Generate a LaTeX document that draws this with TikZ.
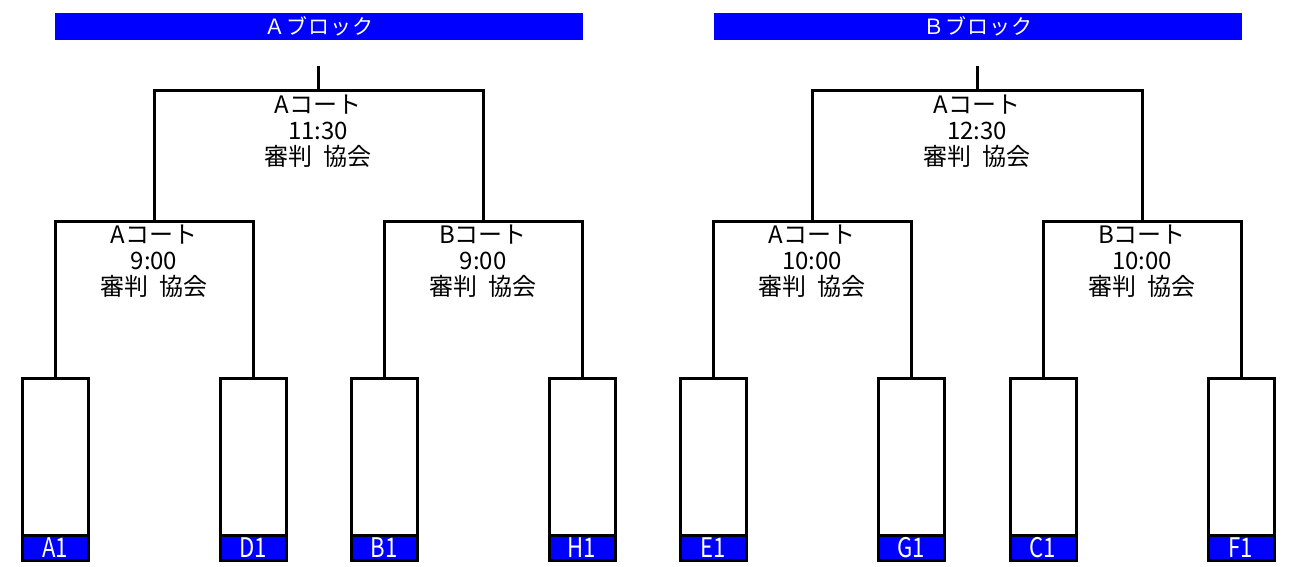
\documentclass[tikz,border=0pt]{standalone}
\usepackage{fontspec}
\setmainfont{Noto Sans CJK JP}
\newfontfamily\hdrfont{Noto Sans CJK JP}[LetterSpace=4]
\definecolor{hblue}{RGB}{0,0,255}
\newcommand{\narrowtxt}[1]{\scalebox{0.82}[1]{#1}}
\begin{document}
\begin{tikzpicture}[x=1pt,y=-1pt,
  line width=3pt,
  header/.style={fill=hblue,inner sep=0pt,minimum width=528pt,minimum height=27pt,
    text=white,font=\hdrfont\fontsize{21pt}{21pt}\selectfont},
  teambox/.style={draw=black,fill=white,inner sep=0pt,minimum width=66pt,minimum height=182pt,line width=3pt},
  teamlbl/.style={draw=black,fill=hblue,inner sep=0pt,minimum width=66pt,minimum height=25pt,line width=3pt,
    text=white,font=\fontsize{27pt}{27pt}\selectfont},
  matchtxt/.style={align=center,inner sep=0pt,
    font=\fontsize{24pt}{26pt}\selectfont},
  bracket/.style={draw=black,line width=3pt}
]
\useasboundingbox (0,0) rectangle (1303,567);

% headers
\node[header] (ha) at (319,26.5) {Ａブロック};
\node[header] (hb) at (978,26.5) {Ｂブロック};

% team boxes
\foreach \nm/\x/\lab in {a1/55/A1, d1/253/D1, b1/384/B1, h1/582/H1,
                         e1/713/E1, g1/911/G1, c1/1043/C1, f1/1241/F1}{
  \node[teambox] (\nm) at (\x,469) {};
  \node[teamlbl] (\nm l) at (\x,547.5) {\narrowtxt{\lab}};
}

% junction coordinates
\coordinate (j1) at (154,221);
\coordinate (j2) at (483,221);
\coordinate (j3) at (812,221);
\coordinate (j4) at (1142,221);
\coordinate (ja) at (318,91);
\coordinate (jb) at (977,91);
\coordinate (sa) at (318,66);
\coordinate (sb) at (977,66);

% brackets
\draw[bracket] (a1.north) |- (j1) -| (d1.north);
\draw[bracket] (b1.north) |- (j2) -| (h1.north);
\draw[bracket] (e1.north) |- (j3) -| (g1.north);
\draw[bracket] (c1.north) |- (j4) -| (f1.north);
\draw[bracket] (j1) |- (ja) -| (j2);
\draw[bracket] (j3) |- (jb) -| (j4);
\draw[bracket] (ja) -- (sa);
\draw[bracket] (jb) -- (sb);

% match texts
\node[matchtxt] (ta) at (318,131) {Aコート\\11:30\\審判\hspace{.45em}協会};
\node[matchtxt] (tb) at (977,131) {Aコート\\12:30\\審判\hspace{.45em}協会};
\node[matchtxt] (t1) at (154,261) {Aコート\\9:00\\審判\hspace{.45em}協会};
\node[matchtxt] (t2) at (483,261) {Bコート\\9:00\\審判\hspace{.45em}協会};
\node[matchtxt] (t3) at (812,261) {Aコート\\10:00\\審判\hspace{.45em}協会};
\node[matchtxt] (t4) at (1142,261) {Bコート\\10:00\\審判\hspace{.45em}協会};
\end{tikzpicture}
\end{document}
